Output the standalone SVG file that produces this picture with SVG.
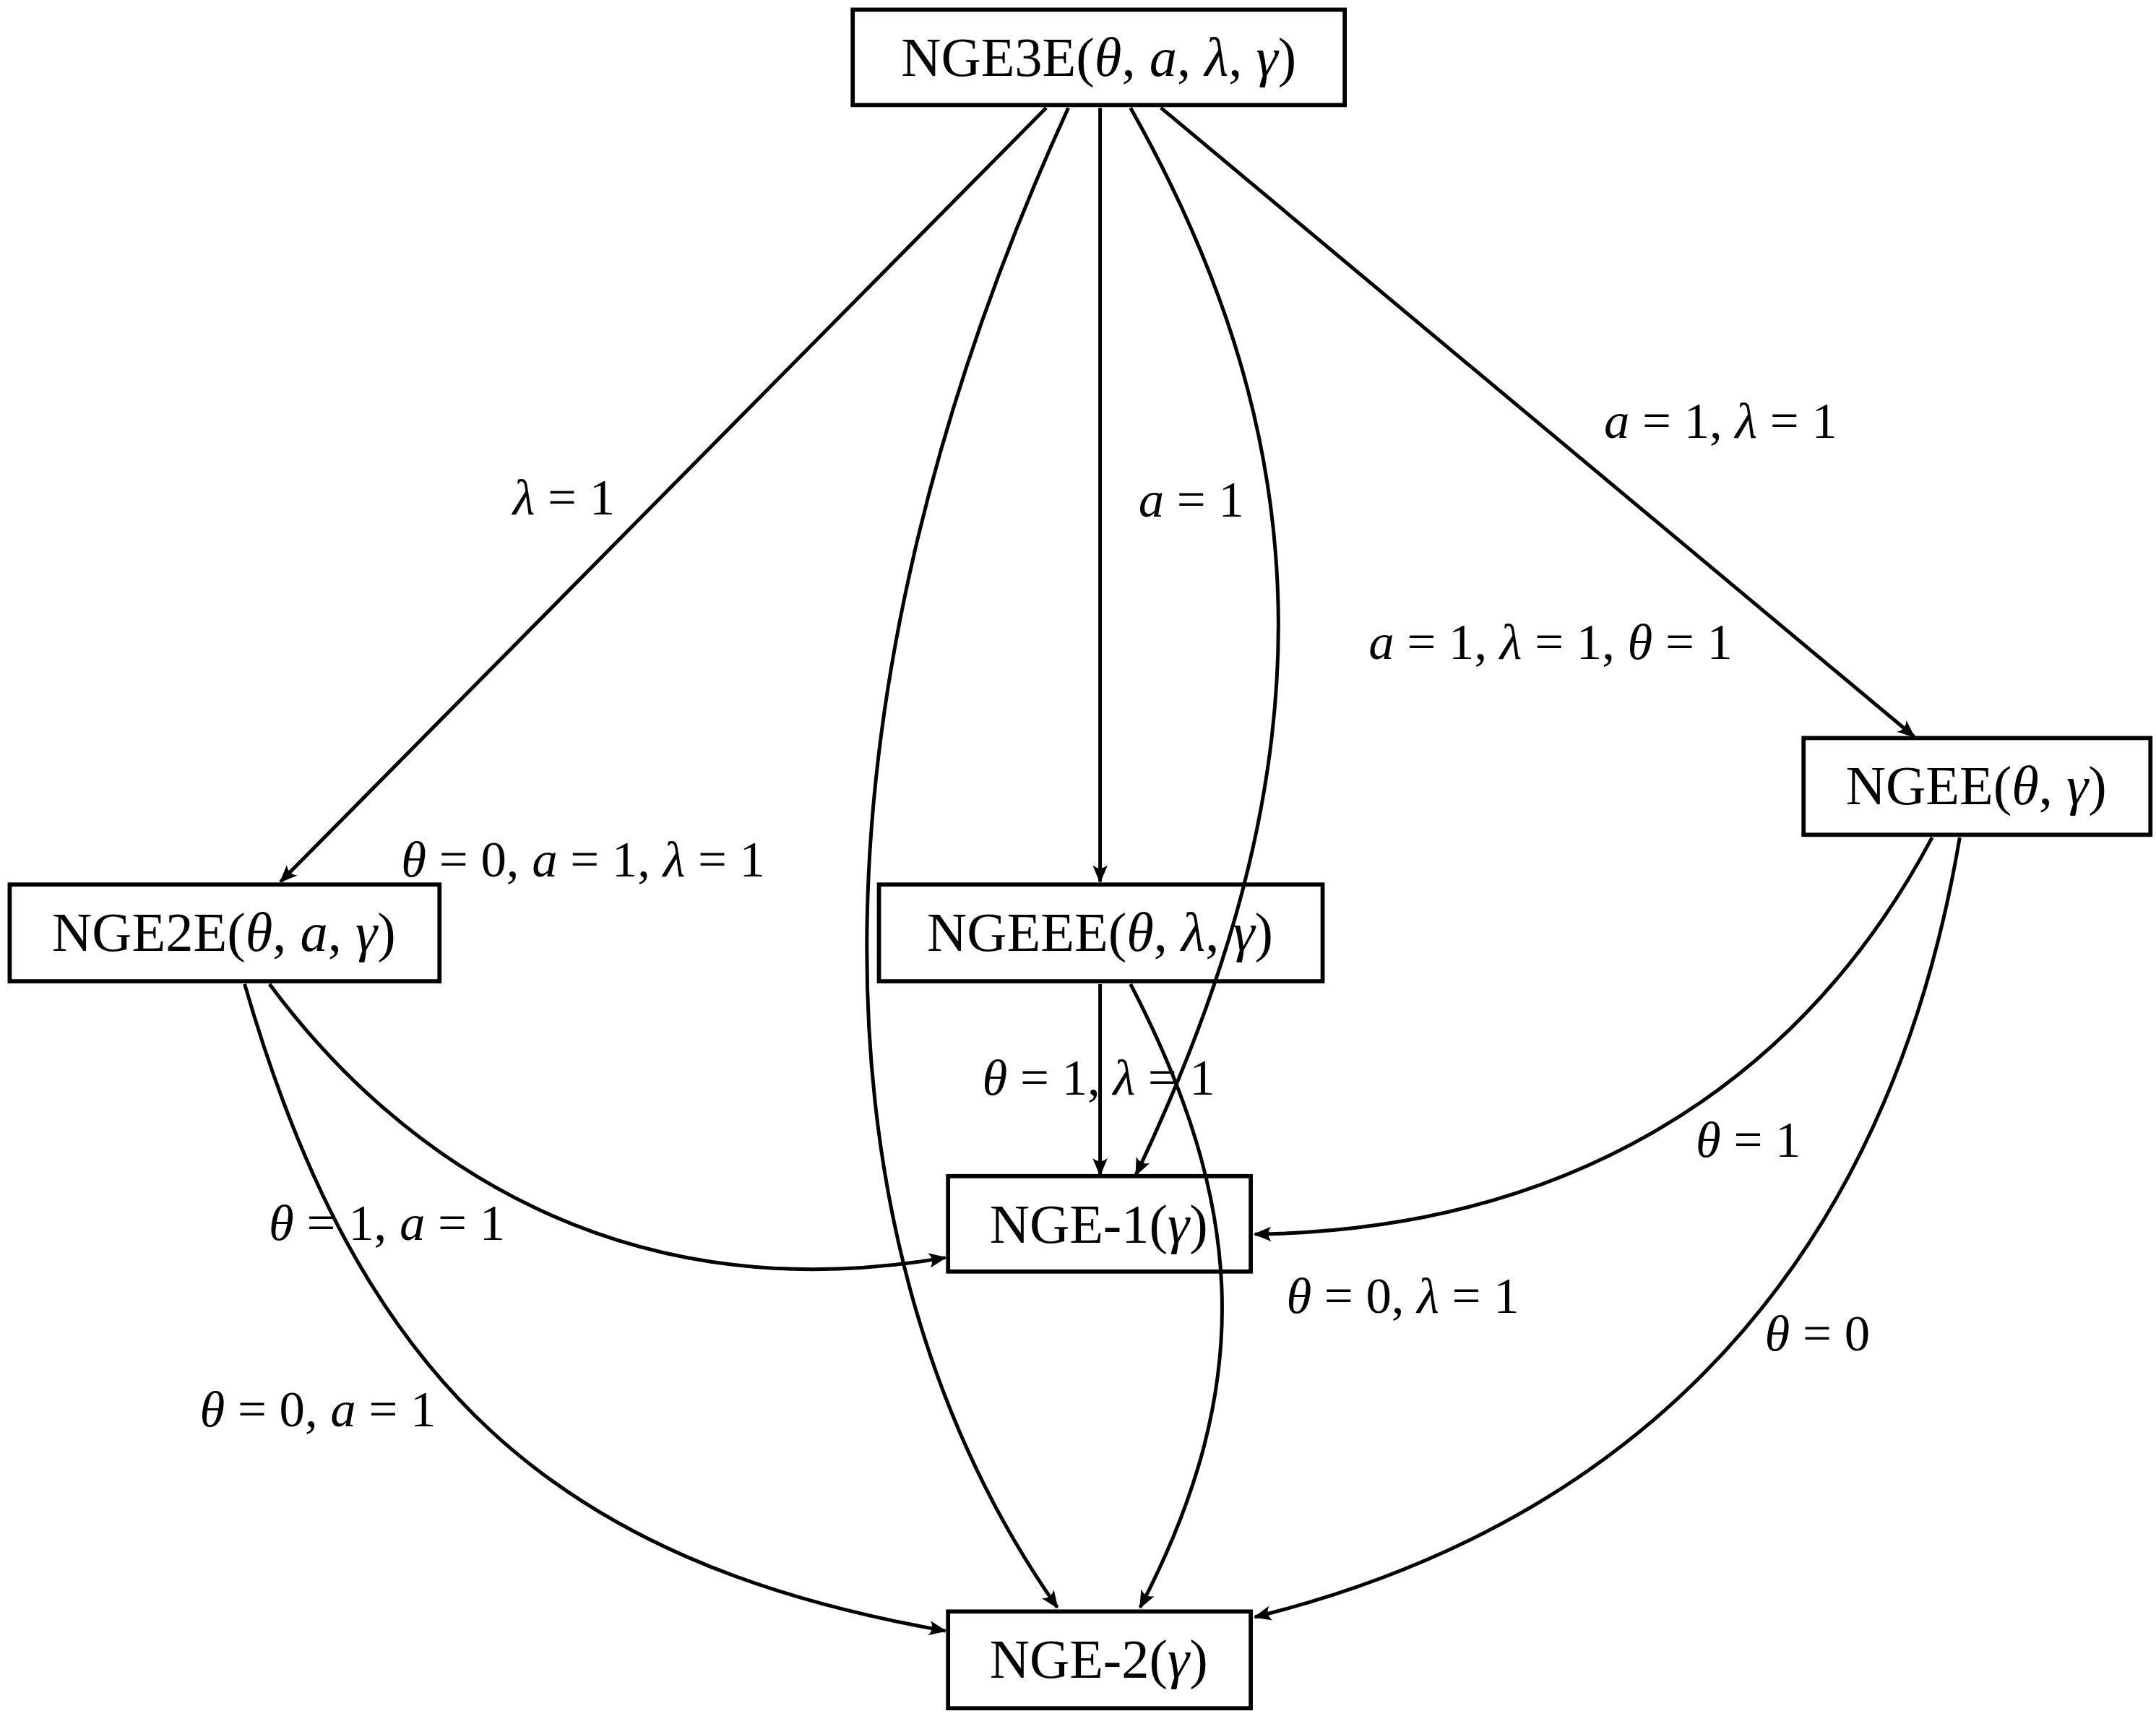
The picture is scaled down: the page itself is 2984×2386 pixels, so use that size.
<svg xmlns="http://www.w3.org/2000/svg" width="2984" height="2386" viewBox="0 0 2984 2386">
<style>
.b{fill:#fff;stroke:#000;stroke-width:3}
.t{font-family:"Liberation Serif",serif;font-size:40px;text-anchor:middle}
.l{font-family:"Liberation Serif",serif;font-size:37px;text-anchor:middle}
.i{font-style:italic}
.e{fill:none;stroke:#000;stroke-width:2.6;marker-end:url(#ah)}
</style>
<defs><marker id="ah" viewBox="0 0 12 10" refX="11" refY="5" markerWidth="5" markerHeight="5" orient="auto" markerUnits="strokeWidth"><path d="M0,0 Q4,5 0,10 L12,5 Z" fill="#000"/></marker></defs>
<rect width="2984" height="2386" fill="#fff"/>
<g transform="scale(1.9128)">
<g id="connectors">
<path class="e" d="M757,78 L203,638"/>
<path class="e" d="M796,78 L796,638"/>
<path class="e" d="M840,78 L1385,533"/>
<path class="e" d="M818,78 C960,330 960,560 822,850"/>
<path class="e" d="M773,78 C580,500 580,900 765,1163"/>
<path class="e" d="M796,712 L796,850"/>
<path class="e" d="M818,712 C900,870 910,1000 825,1163"/>
<path class="e" d="M195,712 C290,840 450,950 684,910"/>
<path class="e" d="M177,712 C260,1000 400,1130 684,1180"/>
<path class="e" d="M1398,606 C1300,790 1130,890 908,893"/>
<path class="e" d="M1418,606 C1360,950 1150,1110 908,1170"/>
</g>
<g id="labels" class="l">
<text x="408" y="372"><tspan class="i">λ</tspan> = 1</text>
<text x="862" y="374"><tspan class="i">a</tspan> = 1</text>
<text x="1245" y="317"><tspan class="i">a</tspan> = 1, <tspan class="i">λ</tspan> = 1</text>
<text x="1122" y="477"><tspan class="i">a</tspan> = 1, <tspan class="i">λ</tspan> = 1, <tspan class="i">θ</tspan> = 1</text>
<text x="422" y="634"><tspan class="i">θ</tspan> = 0, <tspan class="i">a</tspan> = 1, <tspan class="i">λ</tspan> = 1</text>
<text x="795" y="792"><tspan class="i">θ</tspan> = 1, <tspan class="i">λ</tspan> = 1</text>
<text x="1015" y="950"><tspan class="i">θ</tspan> = 0, <tspan class="i">λ</tspan> = 1</text>
<text x="280" y="897"><tspan class="i">θ</tspan> = 1, <tspan class="i">a</tspan> = 1</text>
<text x="230" y="1032"><tspan class="i">θ</tspan> = 0, <tspan class="i">a</tspan> = 1</text>
<text x="1265" y="837"><tspan class="i">θ</tspan> = 1</text>
<text x="1315" y="977"><tspan class="i">θ</tspan> = 0</text>
</g>
<g id="n1"><rect class="b" x="617" y="7" width="356" height="69"/><text class="t" x="795" y="55">NGE3E(<tspan class="i">θ</tspan>, <tspan class="i">a</tspan>, <tspan class="i">λ</tspan>, <tspan class="i">γ</tspan>)</text></g>
<g id="n2"><rect class="b" x="7" y="640" width="311" height="70"/><text class="t" x="162" y="688">NGE2E(<tspan class="i">θ</tspan>, <tspan class="i">a</tspan>, <tspan class="i">γ</tspan>)</text></g>
<g id="n3"><rect class="b" x="636" y="640" width="321" height="70" fill="none" style="fill:none"/><text class="t" x="796" y="688">NGEEE(<tspan class="i">θ</tspan>, <tspan class="i">λ</tspan>, <tspan class="i">γ</tspan>)</text></g>
<g id="n4"><rect class="b" x="1305" y="534" width="251" height="70"/><text class="t" x="1430" y="582">NGEE(<tspan class="i">θ</tspan>, <tspan class="i">γ</tspan>)</text></g>
<g id="n5"><rect class="b" x="686" y="851" width="219" height="69" style="fill:none"/><text class="t" x="795" y="899">NGE-1(<tspan class="i">γ</tspan>)</text></g>
<g id="n6"><rect class="b" x="686" y="1166" width="219" height="70"/><text class="t" x="795" y="1214">NGE-2(<tspan class="i">γ</tspan>)</text></g>
</g>
</svg>
